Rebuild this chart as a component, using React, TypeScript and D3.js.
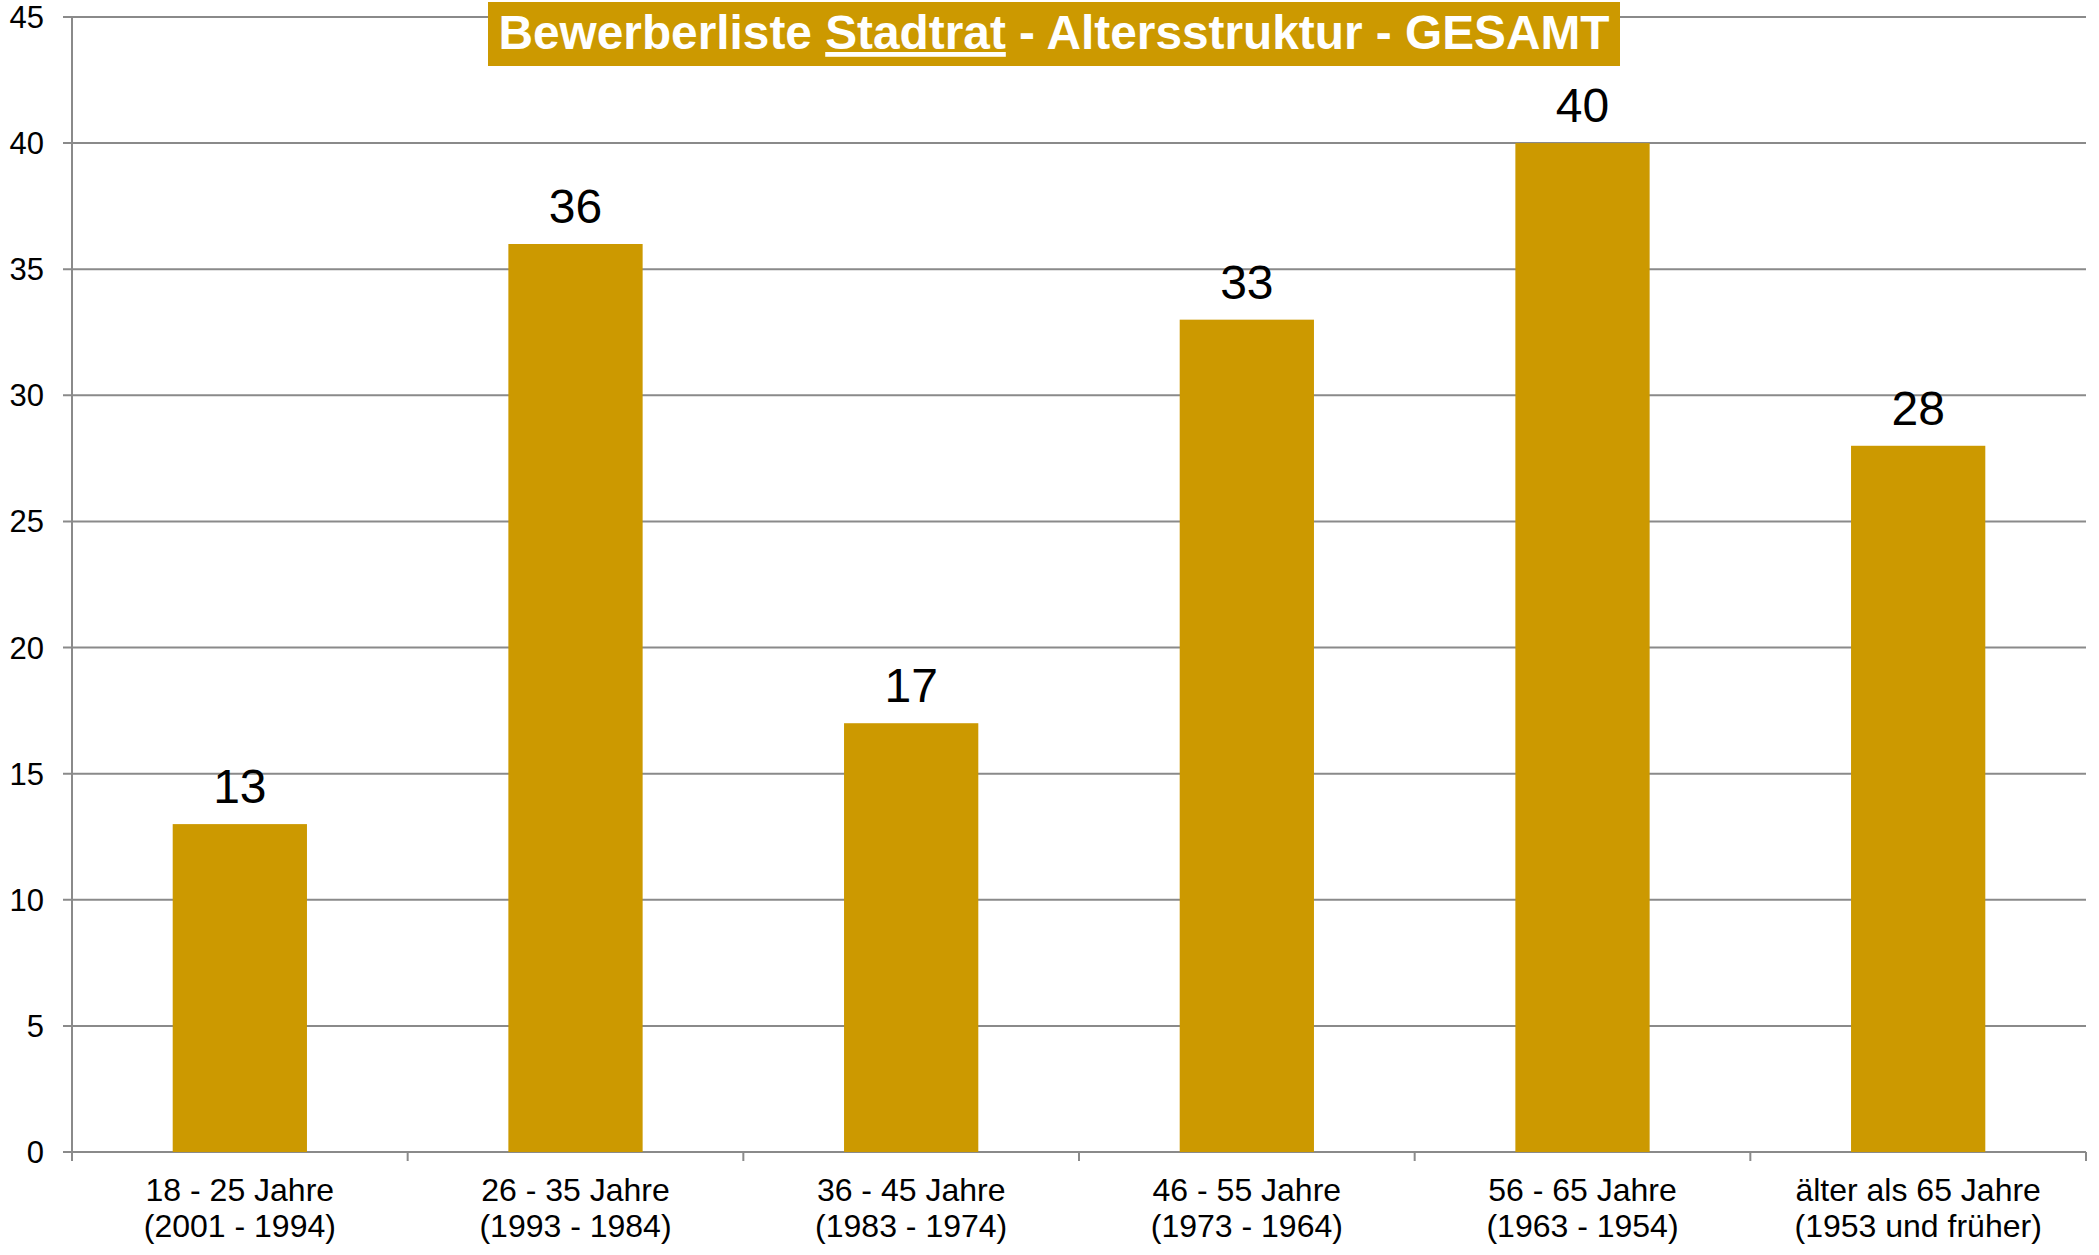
import React from "react";
import * as d3 from "d3";

const categories = [
  ["18 - 25 Jahre", "(2001 - 1994)"],
  ["26 - 35 Jahre", "(1993 - 1984)"],
  ["36 - 45 Jahre", "(1983 - 1974)"],
  ["46 - 55 Jahre", "(1973 - 1964)"],
  ["56 - 65 Jahre", "(1963 - 1954)"],
  ["älter als 65 Jahre", "(1953 und früher)"],
];
const values = [13, 36, 17, 33, 40, 28];
const yTicks = [0, 5, 10, 15, 20, 25, 30, 35, 40, 45];

const W = 2099;
const H = 1255;
const left = 72;
const right = 2086;
const top = 17;
const bottom = 1152;
const gold = "#CC9900";
const grid = "#8a8a8a";
const font = "'Liberation Sans', Arial, sans-serif";

export default function App() {
  const x = d3
    .scaleBand<number>()
    .domain(d3.range(categories.length))
    .range([left, right])
    .padding(0);
  const step = x.step();
  const y = d3.scaleLinear().domain([0, 45]).range([bottom, top]);

  return (
    <svg
      width={W}
      height={H}
      style={{ position: "absolute", left: 0, top: 0, background: "#fff" }}
      fontFamily={font}
    >
      {yTicks.map((t) => (
        <g key={t}>
          <line x1={left - 9} x2={right} y1={y(t)} y2={y(t)} stroke={grid} strokeWidth={2} />
          <text x={44} y={y(t) + 11} textAnchor="end" fontSize={31} fill="#000">
            {t}
          </text>
        </g>
      ))}
      <line x1={left} x2={left} y1={top} y2={bottom + 9} stroke={grid} strokeWidth={2} />
      {d3.range(categories.length + 1).map((i) => (
        <line
          key={i}
          x1={left + i * step}
          x2={left + i * step}
          y1={bottom}
          y2={bottom + 9}
          stroke={grid}
          strokeWidth={2}
        />
      ))}
      {values.map((v, i) => {
        const bx = (x(i) as number) + step * 0.3;
        const bw = step * 0.4;
        const cx = (x(i) as number) + step / 2;
        return (
          <g key={i}>
            <rect x={bx} y={y(v)} width={bw} height={bottom - y(v)} fill={gold} />
            <text x={cx} y={y(v) - 21} textAnchor="middle" fontSize={48} fill="#000">
              {v}
            </text>
            <text x={cx} y={1201} textAnchor="middle" fontSize={32} fill="#000">
              {categories[i][0]}
            </text>
            <text x={cx} y={1237} textAnchor="middle" fontSize={32} fill="#000">
              {categories[i][1]}
            </text>
          </g>
        );
      })}
      <rect x={488} y={2} width={1132} height={64} fill={gold} />
      <text
        x={1054}
        y={49}
        textAnchor="middle"
        fontSize={47.8}
        fontWeight="bold"
        fill="#fff"
      >
        <tspan>Bewerberliste </tspan>
        <tspan style={{ textDecoration: "underline" }}>Stadtrat</tspan>
        <tspan> - Altersstruktur - GESAMT</tspan>
      </text>
    </svg>
  );
}
